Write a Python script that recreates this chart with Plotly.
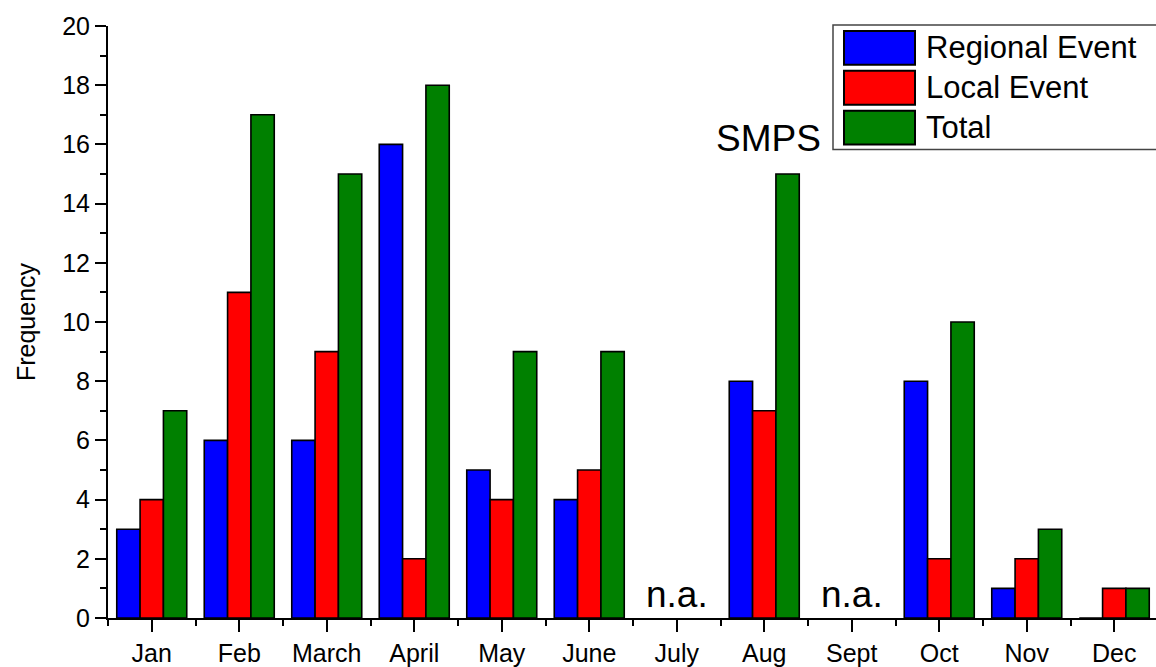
import plotly.graph_objects as go

months = ["Jan", "Feb", "March", "April", "May", "June", "July", "Aug", "Sept", "Oct", "Nov", "Dec"]
regional = [3, 6, 6, 16, 5, 4, None, 8, None, 8, 1, 0]
local = [4, 11, 9, 2, 4, 5, None, 7, None, 2, 2, 1]
total = [7, 17, 15, 18, 9, 9, None, 15, None, 10, 3, 1]
series_names = ["Regional Event", "Local Event", "Total"]
series_colors = ["#0000FF", "#FF0000", "#008000"]
na_months = ["July", "Sept"]

W, H = 1156, 667
L, R, T, B = 108, 0, 26, 47
PW = W - L - R
PH = H - T - B
FONT = "Arial, Liberation Sans, sans-serif"

def px(xp):
    return (xp - L) / PW

def py(yp):
    return (H - B - yp) / PH

xs = list(range(len(months)))
fig = go.Figure()
for name, vals, col in zip(series_names, [regional, local, total], series_colors):
    fig.add_trace(go.Bar(
        x=xs, y=vals, name=name, marker=dict(color=col, line=dict(color="black", width=1.6)),
        showlegend=False,
    ))

# n.a. annotations
for m in na_months:
    fig.add_annotation(x=months.index(m), y=0.8, text="n.a.", showarrow=False,
                       font=dict(size=37, color="black", family=FONT), xref="x", yref="y")
fig.add_annotation(x=7.05, y=16.2, text="SMPS", showarrow=False,
                   font=dict(size=37, color="black", family=FONT), xref="x", yref="y")

# manual legend
fig.add_shape(type="rect", xref="paper", yref="paper", x0=px(833), x1=px(1170), y0=py(150), y1=py(25),
              line=dict(color="#444444", width=1.5), fillcolor="white", layer="above")
sw_tops = [31, 71, 111]
for name, col, top in zip(series_names, series_colors, sw_tops):
    fig.add_shape(type="rect", xref="paper", yref="paper", x0=px(844), x1=px(915), y0=py(top + 34), y1=py(top),
                  line=dict(color="black", width=2), fillcolor=col, layer="above")
    fig.add_annotation(xref="paper", yref="paper", x=px(924), y=py(top + 17), text=name, showarrow=False,
                       xanchor="left", yanchor="middle", font=dict(size=31, color="black", family=FONT))

fig.update_layout(
    width=W, height=H,
    margin=dict(l=L, r=R, t=T, b=B, pad=0),
    paper_bgcolor="white", plot_bgcolor="white",
    barmode="group", bargap=0.2, bargroupgap=0.0,
    font=dict(family=FONT, color="black", size=25),
)
fig.update_xaxes(
    range=[-0.5, -0.5 + PW / 87.5], tickmode="array", tickvals=xs, ticktext=months,
    showline=True, linecolor="black", linewidth=2, showgrid=False, zeroline=False,
    ticks="outside", ticklen=12, tickwidth=2, tickcolor="black",
    tickfont=dict(size=25, family=FONT, color="black"),
    minor=dict(tick0=0.5, dtick=1, ticks="outside", ticklen=6, tickwidth=2, tickcolor="black", showgrid=False),
)
fig.update_yaxes(
    range=[0, 20], tick0=0, dtick=2,
    showline=True, linecolor="black", linewidth=2, showgrid=False, zeroline=False,
    ticks="outside", ticklen=11, tickwidth=2, tickcolor="black",
    tickfont=dict(size=25, family=FONT, color="black"),
    minor=dict(tick0=0, dtick=1, ticks="outside", ticklen=6, tickwidth=2, tickcolor="black", showgrid=False),
    title=dict(text="Frequency", font=dict(size=25, family=FONT, color="black"), standoff=19),
)
fig.write_html("out.html", config={"displayModeBar": False},
               post_script="document.body.style.margin='0';document.body.style.overflow='hidden';")
